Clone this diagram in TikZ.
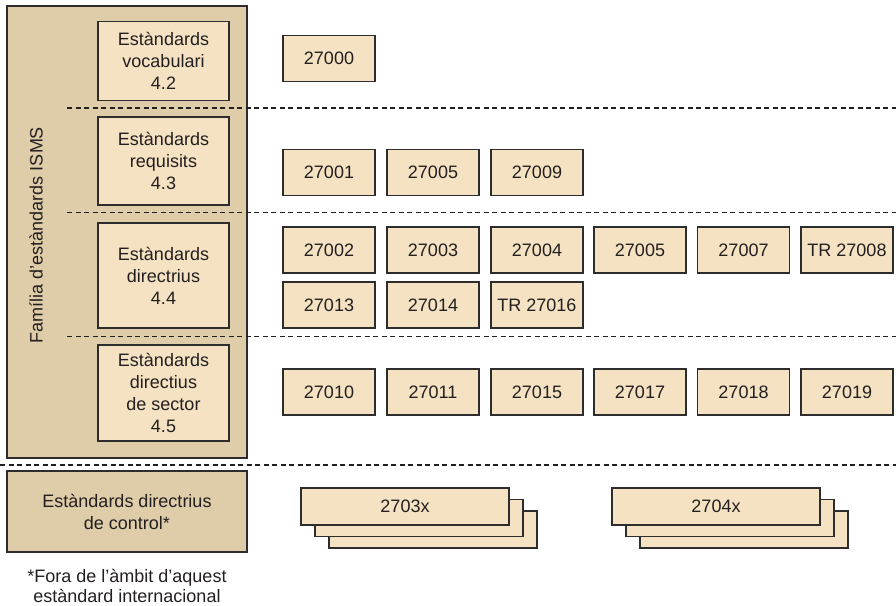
\documentclass[tikz,border=0pt]{standalone}
\usepackage{fontspec}
\setmainfont{Liberation Sans}
\definecolor{tanfill}{RGB}{223,205,170}
\definecolor{creamfill}{RGB}{245,226,194}
\definecolor{edge}{RGB}{45,45,45}
\definecolor{ink}{RGB}{35,31,32}
\begin{document}
\begin{tikzpicture}[x=1pt,y=-1pt,
  txt/.style={font=\fontsize{18}{22}\selectfont, text=ink, align=center},
  group/.style={draw=edge, line width=1.3pt, fill=tanfill, inner sep=0pt, txt},
  catbox/.style={draw=edge, line width=1.3pt, fill=creamfill, inner sep=0pt, minimum width=131pt, txt},
  stdbox/.style={draw=edge, line width=1.3pt, fill=creamfill, inner sep=0pt, minimum width=92pt, minimum height=46pt, txt},
  stackbox/.style={draw=edge, line width=1.3pt, fill=creamfill, inner sep=0pt, minimum width=208pt, minimum height=37pt, txt},
  sep/.style={draw=ink, line width=1.2pt, dash pattern=on 5pt off 3.5pt}]
\useasboundingbox (0,0) rectangle (896,605);

% family frame and control group
\node[group, minimum width=240pt, minimum height=452pt] (family) at (127,232) {};
\node[group, minimum width=240pt, minimum height=81pt] (control) at (127,511.5) {Estàndards directrius\\de control*};
\node[txt, rotate=90] (familylabel) at (36,235) {Família d’estàndards ISMS};

% category boxes
\node[catbox, minimum height=79pt] (voc) at (163.5,61) {Estàndards\\vocabulari\\4.2};
\node[catbox, minimum height=88pt] (req) at (163.5,161) {Estàndards\\requisits\\4.3};
\node[catbox, minimum height=105pt] (dir) at (163.5,275.5) {Estàndards\\directrius\\4.4};
\node[catbox, minimum height=96pt] (sec) at (163.5,393) {Estàndards\\directius\\de sector\\4.5};

% separators
\coordinate (s1a) at (67,108);    \coordinate (s1b) at (896,108);
\coordinate (s2a) at (67,212.5);  \coordinate (s2b) at (896,212.5);
\coordinate (s3a) at (67,336.5);  \coordinate (s3b) at (896,336.5);
\coordinate (s4a) at (0,465);     \coordinate (s4b) at (896,465);
\draw[sep] (s1a) -- (s1b);
\draw[sep] (s2a) -- (s2b);
\draw[sep] (s3a) -- (s3b);
\draw[sep] (s4a) -- (s4b);

% standards
\node[stdbox] (a0) at (329,58.5) {27000};

\node[stdbox] (b1) at (329,172.5) {27001};
\node[stdbox] (b2) at (433,172.5) {27005};
\node[stdbox] (b3) at (537,172.5) {27009};

\node[stdbox] (c1) at (329,250) {27002};
\node[stdbox] (c2) at (433,250) {27003};
\node[stdbox] (c3) at (537,250) {27004};
\node[stdbox] (c4) at (640,250) {27005};
\node[stdbox] (c5) at (743.5,250) {27007};
\node[stdbox] (c6) at (847,250) {TR 27008};

\node[stdbox] (d1) at (329,305) {27013};
\node[stdbox] (d2) at (433,305) {27014};
\node[stdbox] (d3) at (537,305) {TR 27016};

\node[stdbox] (e1) at (329,392) {27010};
\node[stdbox] (e2) at (433,392) {27011};
\node[stdbox] (e3) at (537,392) {27015};
\node[stdbox] (e4) at (640,392) {27017};
\node[stdbox] (e5) at (743.5,392) {27018};
\node[stdbox] (e6) at (847,392) {27019};

% stacked series
\node[stackbox] (x3c) at (433,529.5) {};
\node[stackbox] (x3b) at (419,518) {};
\node[stackbox] (x3a) at (405,506.5) {2703x};

\node[stackbox] (x4c) at (744,529.5) {};
\node[stackbox] (x4b) at (730,518) {};
\node[stackbox] (x4a) at (716,506.5) {2704x};

% footnote
\node[txt, font=\fontsize{18}{20}\selectfont] (note) at (127,586) {*Fora de l’àmbit d’aquest\\estàndard internacional};
\end{tikzpicture}
\end{document}
